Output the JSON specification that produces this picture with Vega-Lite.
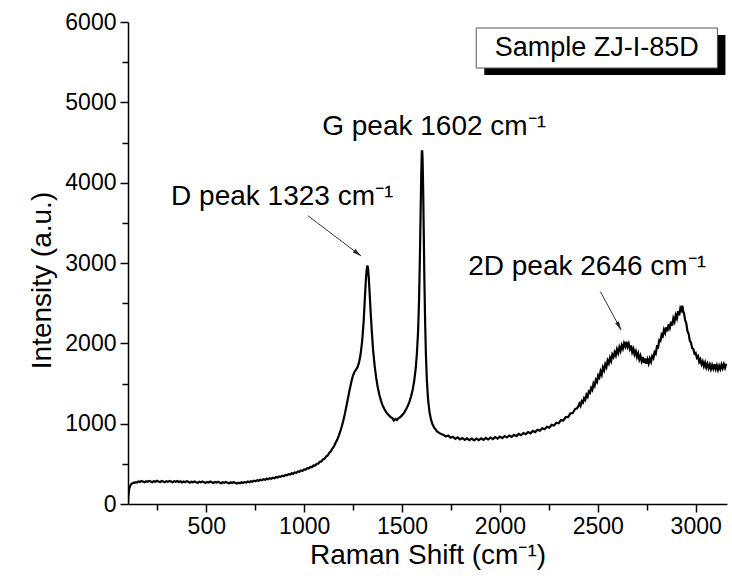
{
  "$schema": "https://vega.github.io/schema/vega-lite/v6.json",
  "width": 599,
  "height": 482,
  "autosize": {"type": "none"},
  "padding": {"left": 128, "top": 22, "right": 5, "bottom": 72},
  "background": "white",
  "config": {
    "view": {"stroke": null},
    "font": "Liberation Sans",
    "axis": {
      "domainColor": "#000",
      "domainWidth": 1.5,
      "tickColor": "#000",
      "tickWidth": 1.5,
      "labelColor": "#000",
      "titleColor": "#000",
      "labelFont": "Liberation Sans",
      "titleFont": "Liberation Sans",
      "labelFontSize": 23,
      "titleFontSize": 28,
      "titleFontWeight": "normal",
      "grid": false
    }
  },
  "datasets": {
    "spectrum": [
      {"x":100,"y":0},{"x":102,"y":90},{"x":104,"y":150},{"x":107,"y":195},{"x":110,"y":220},{"x":114,"y":238},{"x":118,"y":250},{"x":123,"y":258},{"x":128,"y":265},{"x":134,"y":262},{"x":140,"y":272},{"x":146,"y":268},
      {"x":152,"y":281},{"x":160,"y":274},{"x":168,"y":286},{"x":176,"y":279},{"x":184,"y":270},{"x":192,"y":283},{"x":200,"y":277},{"x":208,"y":288},{"x":216,"y":280},{"x":224,"y":272},{"x":232,"y":285},{"x":240,"y":278},{"x":248,"y":290},{"x":256,"y":281},{"x":264,"y":273},{"x":272,"y":286},{"x":280,"y":279},{"x":288,"y":270},{"x":296,"y":284},{"x":304,"y":276},{"x":312,"y":288},{"x":320,"y":280},{"x":328,"y":271},{"x":336,"y":283},{"x":344,"y":277},{"x":352,"y":286},{"x":360,"y":274},{"x":368,"y":282},{"x":376,"y":268},{"x":384,"y":279},{"x":392,"y":271},{"x":400,"y":284},{"x":408,"y":276},{"x":416,"y":265},{"x":424,"y":278},{"x":432,"y":270},{"x":440,"y":281},{"x":448,"y":272},{"x":456,"y":264},{"x":464,"y":277},{"x":472,"y":269},{"x":480,"y":280},{"x":488,"y":271},{"x":496,"y":262},{"x":504,"y":275},{"x":512,"y":267},{"x":520,"y":279},{"x":528,"y":270},{"x":536,"y":261},{"x":544,"y":274},{"x":552,"y":266},{"x":560,"y":277},{"x":568,"y":268},{"x":576,"y":259},{"x":584,"y":271},{"x":592,"y":263},{"x":600,"y":275},{"x":608,"y":266},{"x":616,"y":257},{"x":624,"y":270},{"x":632,"y":262},{"x":640,"y":273},{"x":648,"y":262},{"x":656,"y":255},{"x":664,"y":266},{"x":672,"y":258},{"x":680,"y":270},{"x":688,"y":262},{"x":696,"y":274},{"x":704,"y":266},{"x":712,"y":279},{"x":720,"y":271},{"x":728,"y":284},{"x":736,"y":277},{"x":744,"y":290},{"x":752,"y":283},{"x":760,"y":296},{"x":768,"y":289},{"x":776,"y":302},{"x":784,"y":295},{"x":792,"y":309},{"x":800,"y":301},{"x":808,"y":314},{"x":816,"y":307},{"x":824,"y":321},{"x":832,"y":314},{"x":840,"y":328},{"x":848,"y":320},{"x":856,"y":335},{"x":864,"y":329},{"x":872,"y":344},{"x":880,"y":338},{"x":888,"y":352},{"x":896,"y":346},{"x":904,"y":361},{"x":912,"y":356},{"x":920,"y":371},{"x":928,"y":366},{"x":936,"y":382},{"x":944,"y":377},{"x":952,"y":393},{"x":960,"y":389},{"x":968,"y":405},{"x":976,"y":401},{"x":984,"y":418},{"x":992,"y":414},{"x":1000,"y":431},{"x":1008,"y":428},{"x":1016,"y":446},{"x":1024,"y":443},{"x":1032,"y":462},{"x":1040,"y":460},{"x":1048,"y":480},{"x":1056,"y":479},{"x":1064,"y":501},{"x":1072,"y":502},{"x":1080,"y":526},{"x":1088,"y":530},{"x":1096,"y":556},{"x":1104,"y":563},{"x":1112,"y":592},{"x":1120,"y":604},{"x":1128,"y":637},{"x":1136,"y":655},{"x":1144,"y":690},{"x":1152,"y":716},{"x":1160,"y":758},{"x":1168,"y":795},{"x":1176,"y":845},{"x":1184,"y":900},{"x":1192,"y":965},{"x":1200,"y":1040},{"x":1208,"y":1125},{"x":1216,"y":1220},{"x":1224,"y":1320},{"x":1232,"y":1420},{"x":1240,"y":1510},{"x":1248,"y":1590},{"x":1256,"y":1640},{"x":1264,"y":1670},{"x":1272,"y":1700},{"x":1280,"y":1760},{"x":1288,"y":1860},{"x":1296,"y":2020},{"x":1304,"y":2280},{"x":1310,"y":2560},{"x":1315,"y":2780},{"x":1319,"y":2910},{"x":1323,"y":2970},{"x":1326,"y":2940},{"x":1330,"y":2820},{"x":1335,"y":2600},{"x":1340,"y":2370},{"x":1346,"y":2130},{"x":1352,"y":1920},{"x":1360,"y":1720},{"x":1368,"y":1570},{"x":1376,"y":1450},{"x":1384,"y":1360},{"x":1392,"y":1290},{"x":1400,"y":1230},{"x":1410,"y":1180},{"x":1420,"y":1140},{"x":1430,"y":1110},{"x":1440,"y":1085},{"x":1450,"y":1070},{"x":1458,"y":1040},{"x":1466,"y":1060},{"x":1474,"y":1045},{"x":1482,"y":1070},{"x":1490,"y":1080},{"x":1498,"y":1100},{"x":1506,"y":1120},{"x":1514,"y":1150},{"x":1522,"y":1185},{"x":1530,"y":1225},{"x":1538,"y":1275},{"x":1546,"y":1340},{"x":1554,"y":1420},{"x":1562,"y":1530},{"x":1570,"y":1690},{"x":1576,"y":1880},{"x":1582,"y":2150},{"x":1587,"y":2550},{"x":1591,"y":3050},{"x":1595,"y":3650},{"x":1598,"y":4100},{"x":1601,"y":4390},{"x":1603,"y":4400},{"x":1605,"y":4280},{"x":1608,"y":3900},{"x":1611,"y":3350},{"x":1614,"y":2800},{"x":1618,"y":2250},{"x":1622,"y":1850},{"x":1627,"y":1530},{"x":1633,"y":1300},{"x":1640,"y":1150},{"x":1648,"y":1050},{"x":1656,"y":990},{"x":1664,"y":950},{"x":1672,"y":925},{"x":1680,"y":900},{"x":1690,"y":885},{"x":1700,"y":870},
      {"x":1712,"y":858},{"x":1724,"y":840},{"x":1736,"y":852},{"x":1748,"y":826},{"x":1760,"y":838},{"x":1772,"y":812},{"x":1784,"y":830},{"x":1796,"y":805},{"x":1808,"y":822},{"x":1820,"y":798},{"x":1832,"y":818},{"x":1844,"y":796},{"x":1856,"y":815},{"x":1868,"y":792},{"x":1880,"y":814},{"x":1892,"y":795},{"x":1904,"y":818},{"x":1916,"y":799},{"x":1928,"y":822},{"x":1940,"y":803},{"x":1952,"y":826},{"x":1964,"y":808},{"x":1976,"y":832},{"x":1988,"y":814},{"x":2000,"y":838},{"x":2012,"y":820},{"x":2024,"y":845},{"x":2036,"y":828},{"x":2048,"y":853},{"x":2060,"y":836},{"x":2072,"y":862},{"x":2084,"y":845},{"x":2096,"y":872},{"x":2108,"y":856},{"x":2120,"y":884},{"x":2132,"y":868},{"x":2144,"y":896},{"x":2156,"y":880},{"x":2168,"y":910},{"x":2180,"y":895},{"x":2192,"y":925},{"x":2204,"y":912},{"x":2216,"y":942},{"x":2228,"y":930},{"x":2240,"y":962},{"x":2252,"y":951},{"x":2264,"y":985},{"x":2276,"y":976},{"x":2288,"y":1012},{"x":2300,"y":1005},{"x":2312,"y":1044},{"x":2324,"y":1040},{"x":2336,"y":1082},{"x":2348,"y":1082},{"x":2360,"y":1128},{"x":2372,"y":1132},{"x":2384,"y":1182},{"x":2394,"y":1190},
      {"x":2400,"y":1215},{"x":2406,"y":1250},{"x":2412,"y":1222},{"x":2418,"y":1280},{"x":2424,"y":1262},{"x":2430,"y":1318},{"x":2436,"y":1295},{"x":2442,"y":1360},{"x":2448,"y":1335},{"x":2454,"y":1400},{"x":2460,"y":1385},{"x":2466,"y":1445},{"x":2472,"y":1420},{"x":2478,"y":1500},{"x":2484,"y":1470},{"x":2490,"y":1545},{"x":2496,"y":1520},{"x":2502,"y":1600},{"x":2508,"y":1575},{"x":2514,"y":1650},{"x":2520,"y":1610},{"x":2526,"y":1700},{"x":2532,"y":1665},{"x":2538,"y":1740},{"x":2544,"y":1705},{"x":2550,"y":1785},{"x":2556,"y":1750},{"x":2562,"y":1820},{"x":2568,"y":1780},{"x":2574,"y":1860},{"x":2580,"y":1830},{"x":2586,"y":1890},{"x":2592,"y":1850},{"x":2598,"y":1925},{"x":2604,"y":1880},{"x":2610,"y":1950},{"x":2616,"y":1905},{"x":2622,"y":1975},{"x":2628,"y":1935},{"x":2634,"y":2000},{"x":2640,"y":1960},{"x":2646,"y":2020},{"x":2652,"y":1955},{"x":2658,"y":1995},{"x":2664,"y":1930},{"x":2670,"y":1975},{"x":2676,"y":1890},{"x":2682,"y":1930},{"x":2688,"y":1860},{"x":2694,"y":1900},{"x":2700,"y":1830},{"x":2706,"y":1875},{"x":2712,"y":1800},{"x":2718,"y":1845},{"x":2724,"y":1780},{"x":2730,"y":1830},{"x":2736,"y":1755},{"x":2742,"y":1810},{"x":2748,"y":1745},{"x":2754,"y":1800},{"x":2760,"y":1750},{"x":2766,"y":1810},{"x":2772,"y":1770},{"x":2778,"y":1840},{"x":2784,"y":1815},{"x":2790,"y":1890},{"x":2796,"y":1870},{"x":2802,"y":1960},{"x":2808,"y":1950},{"x":2814,"y":2040},{"x":2820,"y":2030},{"x":2826,"y":2110},{"x":2832,"y":2090},{"x":2838,"y":2170},{"x":2844,"y":2130},{"x":2850,"y":2200},{"x":2856,"y":2150},{"x":2862,"y":2240},{"x":2868,"y":2195},{"x":2874,"y":2270},{"x":2880,"y":2220},{"x":2886,"y":2310},{"x":2892,"y":2270},{"x":2898,"y":2350},{"x":2904,"y":2310},{"x":2910,"y":2400},{"x":2916,"y":2350},{"x":2922,"y":2440},{"x":2928,"y":2410},{"x":2932,"y":2470},{"x":2936,"y":2400},{"x":2940,"y":2380},{"x":2946,"y":2290},{"x":2952,"y":2250},{"x":2958,"y":2150},{"x":2964,"y":2120},{"x":2970,"y":2030},{"x":2976,"y":2010},{"x":2982,"y":1940},{"x":2988,"y":1930},{"x":2994,"y":1870},{"x":3000,"y":1880},{"x":3006,"y":1820},{"x":3012,"y":1840},{"x":3018,"y":1770},{"x":3024,"y":1800},{"x":3030,"y":1740},{"x":3036,"y":1775},{"x":3042,"y":1715},{"x":3048,"y":1760},{"x":3054,"y":1700},{"x":3060,"y":1745},{"x":3066,"y":1690},{"x":3072,"y":1735},{"x":3078,"y":1680},{"x":3084,"y":1730},{"x":3090,"y":1685},{"x":3096,"y":1740},{"x":3102,"y":1680},{"x":3108,"y":1725},{"x":3114,"y":1670},{"x":3120,"y":1720},{"x":3126,"y":1680},{"x":3132,"y":1735},{"x":3138,"y":1690},{"x":3144,"y":1740},{"x":3150,"y":1695},{"x":3156,"y":1745}
    ],
    "labels": [
      {"label": "D peak 1323 cm⁻¹", "x": 320, "y": 3724},
      {"label": "G peak 1602 cm⁻¹", "x": 1092, "y": 4595},
      {"label": "2D peak 2646 cm⁻¹", "x": 1838, "y": 2852}
    ],
    "arrows": [
      {"x": 1020, "y": 3587, "x2": 1290, "y2": 3088, "hx": 1270, "hy": 3125, "angle": 127},
      {"x": 2513, "y": 2644, "x2": 2619, "y2": 2167, "hx": 2607, "hy": 2222, "angle": 152}
    ]
  },
  "layer": [
    {
      "data": {"name": "spectrum"},
      "mark": {"type": "line", "color": "#000", "strokeWidth": 2.2, "clip": true},
      "encoding": {
        "x": {
          "field": "x", "type": "quantitative",
          "scale": {"domain": [100, 3160], "nice": false, "zero": false},
          "axis": {
            "title": "Raman Shift (cm⁻¹)",
            "values": [250, 500, 750, 1000, 1250, 1500, 1750, 2000, 2250, 2500, 2750, 3000],
            "labelExpr": "datum.value % 500 === 0 ? datum.value : ''",
            "tickSize": {"condition": {"test": "datum.value % 500 === 0", "value": 8}, "value": 6},
            "labelPadding": 3,
            "titlePadding": 3
          }
        },
        "y": {
          "field": "y", "type": "quantitative",
          "scale": {"domain": [0, 6000], "nice": false},
          "axis": {
            "title": "Intensity (a.u.)",
            "values": [0, 500, 1000, 1500, 2000, 2500, 3000, 3500, 4000, 4500, 5000, 5500, 6000],
            "labelExpr": "datum.value % 1000 === 0 ? datum.value : ''",
            "tickSize": {"condition": {"test": "datum.value % 1000 === 0", "value": 8}, "value": 6},
            "labelPadding": 4,
            "titlePadding": 8,
            "titleY": 258
          }
        }
      }
    },
    {
      "data": {"name": "arrows"},
      "mark": {"type": "rule", "color": "#333", "strokeWidth": 1},
      "encoding": {
        "x": {"field": "x", "type": "quantitative"},
        "y": {"field": "y", "type": "quantitative"},
        "x2": {"field": "x2"},
        "y2": {"field": "y2"}
      }
    },
    {
      "data": {"name": "arrows"},
      "mark": {"type": "point", "shape": "M0,-1L0.4,0.7L-0.4,0.7Z", "filled": true, "color": "#222", "size": 110, "opacity": 1},
      "encoding": {
        "x": {"field": "hx", "type": "quantitative"},
        "y": {"field": "hy", "type": "quantitative"},
        "angle": {"field": "angle", "type": "quantitative", "scale": null}
      }
    },
    {
      "data": {"name": "labels"},
      "mark": {"type": "text", "align": "left", "baseline": "alphabetic", "fontSize": 28, "color": "#000", "font": "Liberation Sans"},
      "encoding": {
        "x": {"field": "x", "type": "quantitative"},
        "y": {"field": "y", "type": "quantitative"},
        "text": {"field": "label"}
      }
    },
    {
      "data": {"values": [{"x": 1920, "x2": 3152, "y": 5838, "y2": 5340}]},
      "mark": {"type": "rect", "color": "#000"},
      "encoding": {
        "x": {"field": "x", "type": "quantitative"},
        "x2": {"field": "x2"},
        "y": {"field": "y", "type": "quantitative"},
        "y2": {"field": "y2"}
      }
    },
    {
      "data": {"values": [{"x": 1879, "x2": 3111, "y": 5925, "y2": 5427}]},
      "mark": {"type": "rect", "fill": "#fff", "stroke": "#555", "strokeWidth": 1},
      "encoding": {
        "x": {"field": "x", "type": "quantitative"},
        "x2": {"field": "x2"},
        "y": {"field": "y", "type": "quantitative"},
        "y2": {"field": "y2"}
      }
    },
    {
      "data": {"values": [{"label": "Sample ZJ-I-85D", "x": 2495, "y": 5676}]},
      "mark": {"type": "text", "align": "center", "baseline": "middle", "fontSize": 27, "color": "#000", "font": "Liberation Sans"},
      "encoding": {
        "x": {"field": "x", "type": "quantitative"},
        "y": {"field": "y", "type": "quantitative"},
        "text": {"field": "label"}
      }
    }
  ]
}
